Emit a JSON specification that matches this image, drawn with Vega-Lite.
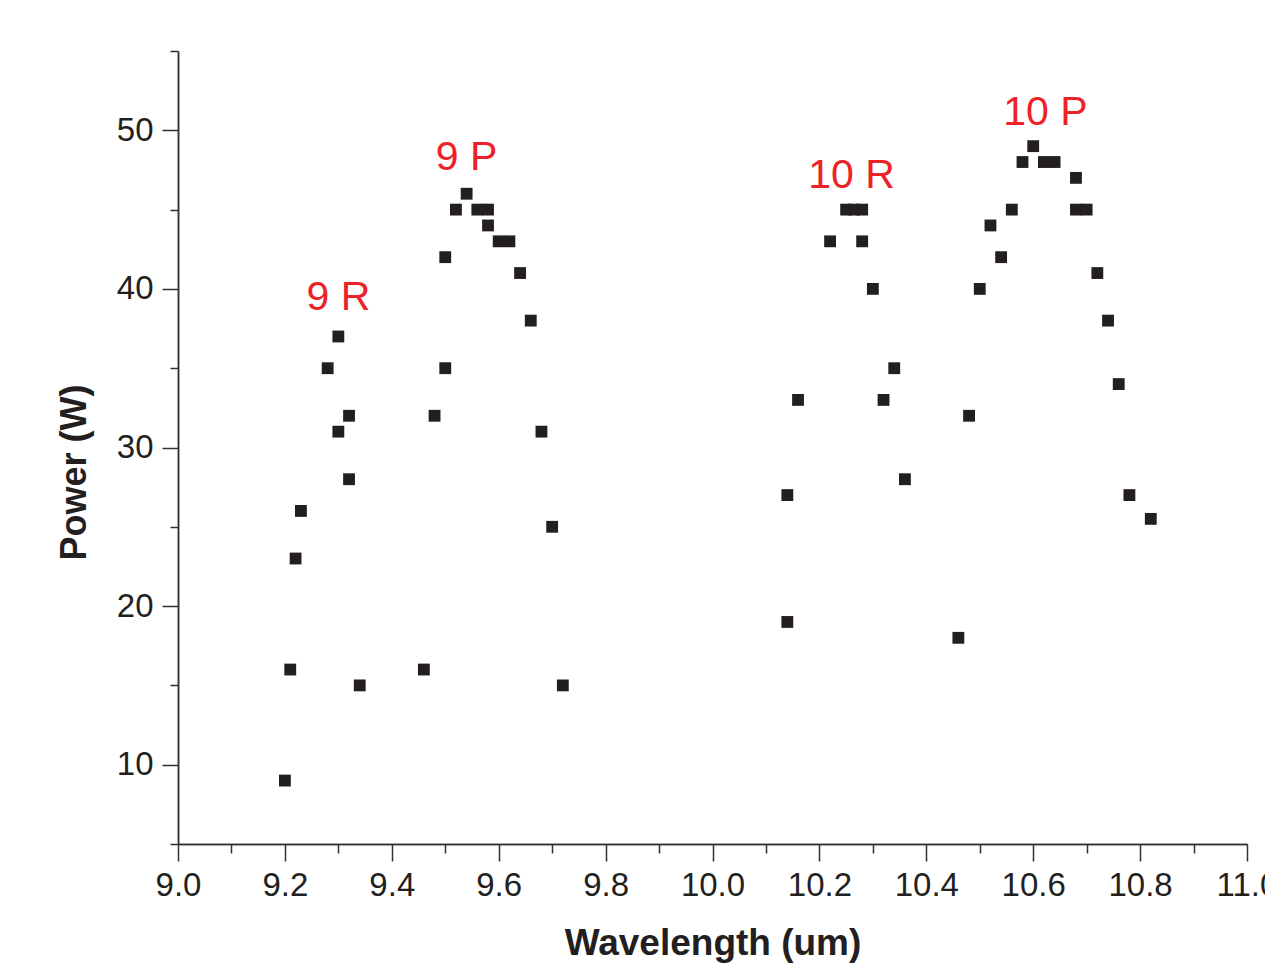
{
  "$schema": "https://vega.github.io/schema/vega-lite/v6.json",
  "width": 1069,
  "height": 793,
  "autosize": "none",
  "padding": {"left": 178, "top": 51, "right": 18, "bottom": 120},
  "background": "white",
  "config": {
    "view": {"stroke": null},
    "axis": {"grid": false, "domainColor": "#333333", "domainWidth": 1.5, "tickColor": "#333333", "tickWidth": 1.5, "labelColor": "#231f20", "titleColor": "#231f20"}
  },
  "layer": [
    {
      "data": {"values": [
        {"wavelength": 9.20, "power": 9}, {"wavelength": 9.21, "power": 16}, {"wavelength": 9.22, "power": 23}, {"wavelength": 9.23, "power": 26},
        {"wavelength": 9.28, "power": 35}, {"wavelength": 9.30, "power": 37}, {"wavelength": 9.30, "power": 31}, {"wavelength": 9.32, "power": 32},
        {"wavelength": 9.32, "power": 28}, {"wavelength": 9.34, "power": 15},
        {"wavelength": 9.46, "power": 16}, {"wavelength": 9.48, "power": 32}, {"wavelength": 9.50, "power": 35}, {"wavelength": 9.50, "power": 42},
        {"wavelength": 9.52, "power": 45}, {"wavelength": 9.54, "power": 46}, {"wavelength": 9.56, "power": 45}, {"wavelength": 9.58, "power": 45},
        {"wavelength": 9.58, "power": 44}, {"wavelength": 9.60, "power": 43}, {"wavelength": 9.62, "power": 43}, {"wavelength": 9.64, "power": 41},
        {"wavelength": 9.66, "power": 38}, {"wavelength": 9.68, "power": 31}, {"wavelength": 9.70, "power": 25}, {"wavelength": 9.72, "power": 15},
        {"wavelength": 10.14, "power": 19}, {"wavelength": 10.14, "power": 27}, {"wavelength": 10.16, "power": 33}, {"wavelength": 10.22, "power": 43},
        {"wavelength": 10.25, "power": 45}, {"wavelength": 10.265, "power": 45}, {"wavelength": 10.28, "power": 45}, {"wavelength": 10.28, "power": 43},
        {"wavelength": 10.30, "power": 40}, {"wavelength": 10.32, "power": 33}, {"wavelength": 10.34, "power": 35}, {"wavelength": 10.36, "power": 28},
        {"wavelength": 10.46, "power": 18}, {"wavelength": 10.48, "power": 32}, {"wavelength": 10.50, "power": 40}, {"wavelength": 10.52, "power": 44},
        {"wavelength": 10.54, "power": 42}, {"wavelength": 10.56, "power": 45}, {"wavelength": 10.58, "power": 48}, {"wavelength": 10.60, "power": 49},
        {"wavelength": 10.62, "power": 48}, {"wavelength": 10.64, "power": 48}, {"wavelength": 10.68, "power": 47}, {"wavelength": 10.68, "power": 45},
        {"wavelength": 10.70, "power": 45}, {"wavelength": 10.72, "power": 41}, {"wavelength": 10.74, "power": 38}, {"wavelength": 10.76, "power": 34},
        {"wavelength": 10.78, "power": 27}, {"wavelength": 10.82, "power": 25.5}
      ]},
      "mark": {"type": "square", "size": 140, "color": "#231f20", "opacity": 1, "filled": true},
      "encoding": {
        "x": {"field": "wavelength", "type": "quantitative", "scale": {"domain": [9, 11], "nice": false, "zero": false},
          "axis": {"orient": "bottom", "values": [9.1, 9.3, 9.5, 9.7, 9.9, 10.1, 10.3, 10.5, 10.7, 10.9], "tickSize": 9, "labels": false, "title": null}},
        "y": {"field": "power", "type": "quantitative", "scale": {"domain": [5, 55], "nice": false, "zero": false},
          "axis": {"orient": "left", "values": [5, 15, 25, 35, 45, 55], "tickSize": 8, "labels": false, "title": null}}
      }
    },
    {
      "data": {"values": [
        {"wavelength": 9.30, "power": 38.7, "label": "9 R"},
        {"wavelength": 9.54, "power": 47.5, "label": "9 P"},
        {"wavelength": 10.26, "power": 46.35, "label": "10 R"},
        {"wavelength": 10.623, "power": 50.33, "label": "10 P"}
      ]},
      "mark": {"type": "text", "color": "#ed2227", "font": "Liberation Sans", "fontSize": 41, "align": "center", "baseline": "alphabetic"},
      "encoding": {
        "text": {"field": "label"},
        "x": {"field": "wavelength", "type": "quantitative",
          "axis": {"orient": "bottom", "values": [9, 9.2, 9.4, 9.6, 9.8, 10, 10.2, 10.4, 10.6, 10.8, 11], "format": ".1f", "tickSize": 17, "labelPadding": 8,
            "labelFont": "Liberation Sans", "labelFontSize": 33,
            "title": "Wavelength (um)", "titleFont": "Liberation Sans", "titleFontWeight": "bold", "titleFontSize": 37,
            "titleBaseline": "alphabetic", "titleY": 110, "labelFlush": false, "labelOverlap": false}},
        "y": {"field": "power", "type": "quantitative",
          "axis": {"orient": "left", "values": [10, 20, 30, 40, 50], "format": "d", "tickSize": 16, "labelPadding": 9,
            "labelFont": "Liberation Sans", "labelFontSize": 33,
            "title": "Power (W)", "titleFont": "Liberation Sans", "titleFontWeight": "bold", "titleFontSize": 36,
            "titleAngle": -90, "titleAlign": "center", "titleBaseline": "middle", "titleX": -104, "titleY": 421, "labelOverlap": false}}
      }
    }
  ],
  "resolve": {"axis": {"x": "independent", "y": "independent"}}
}
